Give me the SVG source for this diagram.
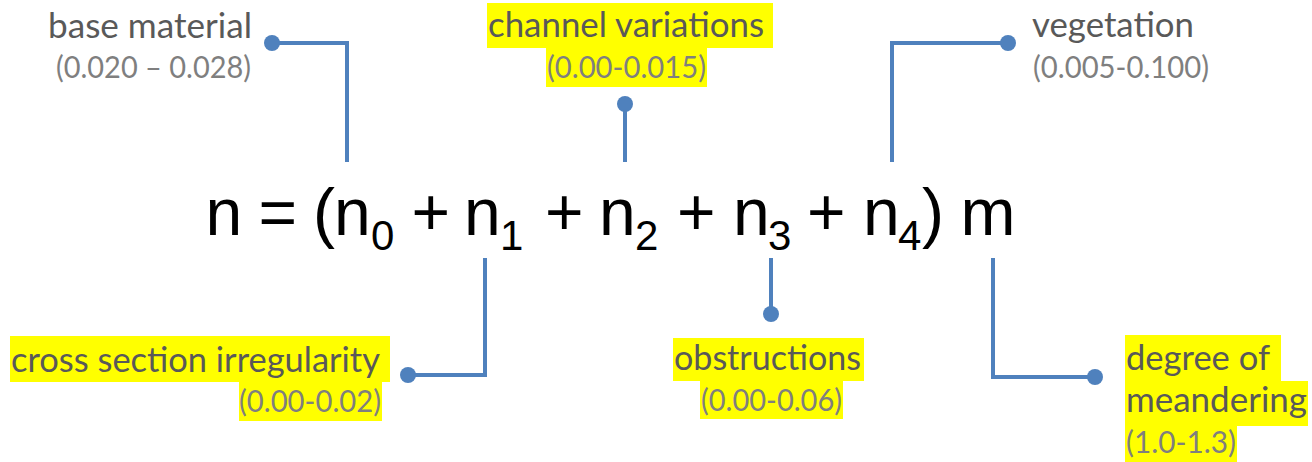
<svg xmlns="http://www.w3.org/2000/svg" width="1312" height="462" viewBox="0 0 1312 462">
<style>
.lbl{font-family:Lato,"Open Sans","Liberation Sans",sans-serif;font-size:35px;fill:#595959}
.rng{font-family:Lato,"Open Sans","Liberation Sans",sans-serif;font-size:30px;fill:#7f7f7f}
.hl{fill:#ffff00}
.eq{font-family:"Liberation Sans",Arial,sans-serif;font-size:66px;fill:#000}
.sub{font-size:42px}
.conn{fill:none;stroke:#4f81bd;stroke-width:4}
.dot{fill:#4f81bd}
</style>
<rect width="1312" height="462" fill="#fff"/>
<g id="connectors">
<path class="conn" d="M272,43 H347 V162"/><circle class="dot" cx="272" cy="43" r="8"/>
<path class="conn" d="M625,104 V162"/><circle class="dot" cx="625" cy="104" r="8"/>
<path class="conn" d="M1008,43 H892 V162"/><circle class="dot" cx="1008" cy="43" r="8"/>
<path class="conn" d="M408,375 H485 V258"/><circle class="dot" cx="408" cy="375" r="8"/>
<path class="conn" d="M771,314 V258"/><circle class="dot" cx="771" cy="314" r="8"/>
<path class="conn" d="M1095,377 H993 V258"/><circle class="dot" cx="1095" cy="377" r="8"/>
</g>
<g id="equation">
<text class="eq" y="235"><tspan x="205.5">n</tspan><tspan x="258.5">=</tspan><tspan x="313">(</tspan><tspan x="334">n</tspan><tspan class="sub" x="371" y="250">0</tspan><tspan x="411.5" y="235">+</tspan><tspan x="464">n</tspan><tspan class="sub" x="500" y="250">1</tspan><tspan x="545" y="235">+</tspan><tspan x="599">n</tspan><tspan class="sub" x="635" y="250">2</tspan><tspan x="677" y="235">+</tspan><tspan x="733">n</tspan><tspan class="sub" x="768" y="250">3</tspan><tspan x="807" y="235">+</tspan><tspan x="863">n</tspan><tspan class="sub" x="898" y="250">4</tspan><tspan x="922" y="235">)</tspan><tspan x="960.5">m</tspan></text>
</g>
<g id="base-material">
<text class="lbl" x="252" y="38" text-anchor="end" textLength="204" lengthAdjust="spacingAndGlyphs">base material</text>
<text class="rng" x="251" y="78" text-anchor="end" textLength="195" lengthAdjust="spacingAndGlyphs">(0.020 – 0.028)</text>
</g>
<g id="channel-variations">
<rect class="hl" x="487" y="3" width="286" height="45"/>
<rect class="hl" x="546" y="48" width="161" height="39"/>
<text class="lbl" x="488" y="37" textLength="276" lengthAdjust="spacingAndGlyphs">channel variations</text>
<text class="rng" x="547" y="78" textLength="159" lengthAdjust="spacingAndGlyphs">(0.00-0.015)</text>
</g>
<g id="vegetation">
<text class="lbl" x="1032" y="37" textLength="162" lengthAdjust="spacingAndGlyphs">vegetation</text>
<text class="rng" x="1033" y="78" textLength="176" lengthAdjust="spacingAndGlyphs">(0.005-0.100)</text>
</g>
<g id="cross-section">
<rect class="hl" x="10" y="336" width="380" height="46"/>
<rect class="hl" x="239" y="382" width="143" height="39"/>
<text class="lbl" x="11" y="372" textLength="369" lengthAdjust="spacingAndGlyphs">cross section irregularity</text>
<text class="rng" x="239" y="412" textLength="142" lengthAdjust="spacingAndGlyphs">(0.00-0.02)</text>
</g>
<g id="obstructions">
<rect class="hl" x="673" y="338" width="191" height="43"/>
<rect class="hl" x="700" y="381" width="143" height="38"/>
<text class="lbl" x="674" y="370" textLength="187" lengthAdjust="spacingAndGlyphs">obstructions</text>
<text class="rng" x="701" y="411" textLength="141" lengthAdjust="spacingAndGlyphs">(0.00-0.06)</text>
</g>
<g id="meandering">
<rect class="hl" x="1125" y="335" width="156" height="46"/>
<rect class="hl" x="1125" y="381" width="183" height="45"/>
<rect class="hl" x="1125" y="426" width="112" height="36"/>
<text class="lbl" x="1126" y="370" textLength="144" lengthAdjust="spacingAndGlyphs">degree of</text>
<text class="lbl" x="1126" y="412" textLength="181" lengthAdjust="spacingAndGlyphs">meandering</text>
<text class="rng" x="1126" y="453" textLength="110" lengthAdjust="spacingAndGlyphs">(1.0-1.3)</text>
</g>
</svg>
